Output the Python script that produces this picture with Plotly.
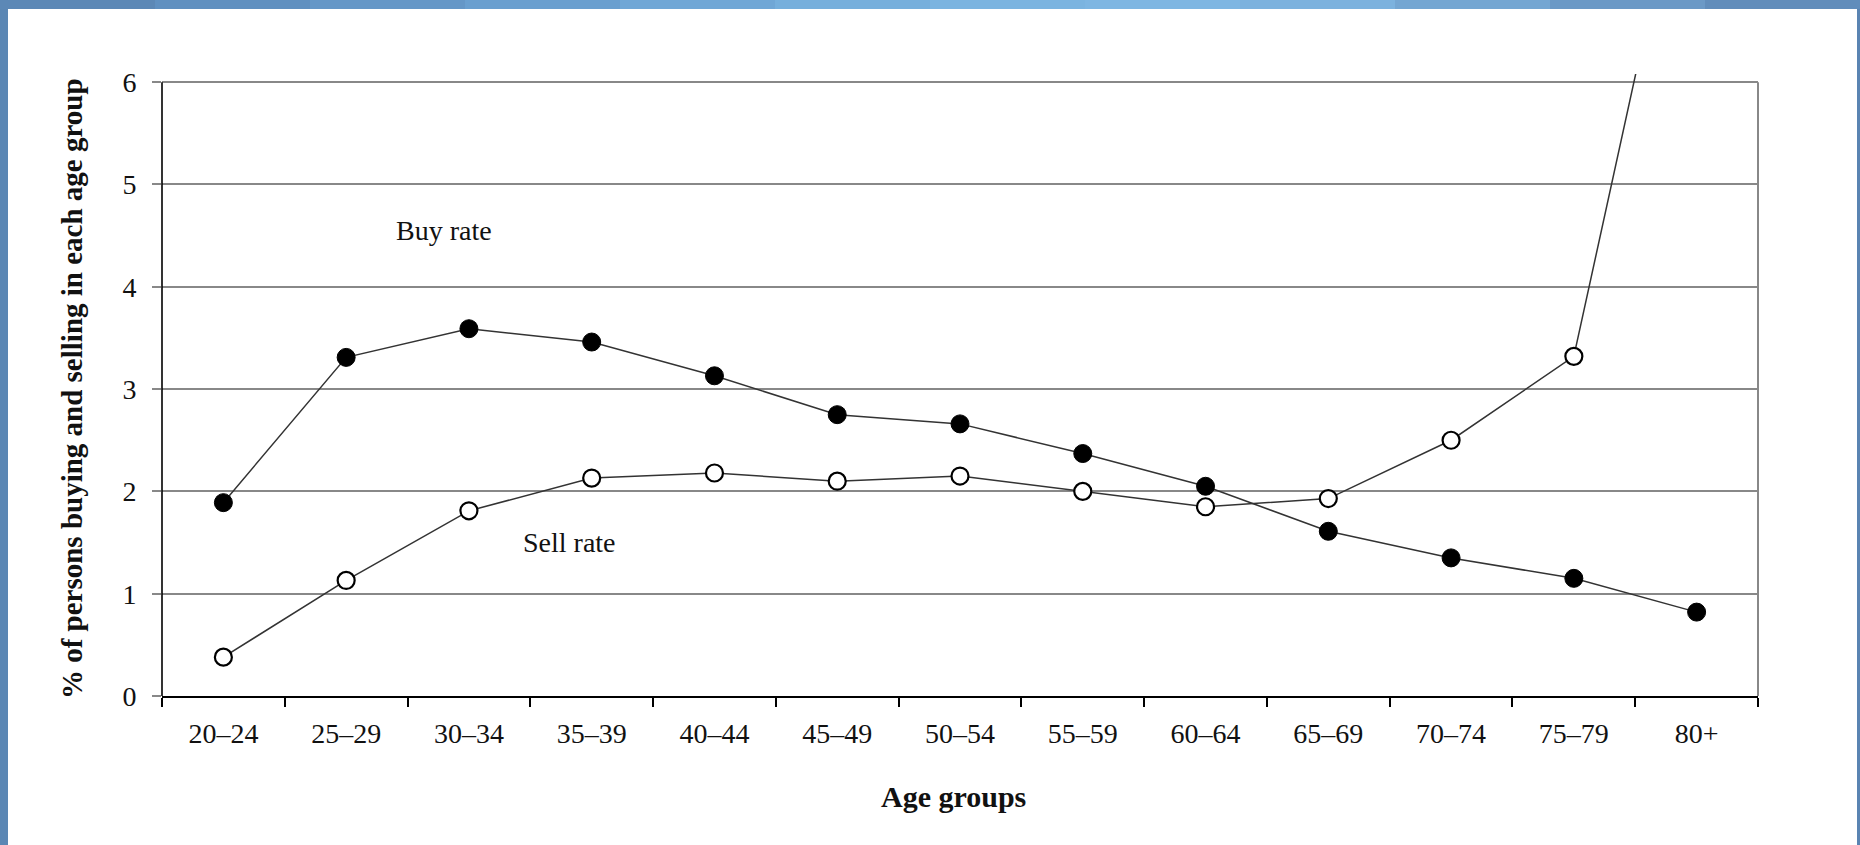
import plotly.graph_objects as go

# ---------------- data ----------------
age_groups = ["20–24", "25–29", "30–34", "35–39", "40–44", "45–49", "50–54",
              "55–59", "60–64", "65–69", "70–74", "75–79", "80+"]
buy_rate = [1.89, 3.31, 3.59, 3.46, 3.13, 2.75, 2.66, 2.37, 2.05, 1.61, 1.35, 1.15, 0.82]
sell_rate = [0.38, 1.13, 1.81, 2.13, 2.18, 2.10, 2.15, 2.00, 1.85, 1.93, 2.50, 3.32, 8.80]
y_ticks = [0, 1, 2, 3, 4, 5, 6]

# ---------------- geometry ----------------
W, H = 1860, 845
L, R, T, B = 162, 1758, 74, 696
FONT = "Liberation Serif"
LINE = "#333333"
GRID = "#888888"


def px(x):
    return (x - L) / (R - L)


def py(y):
    return (B - y) / (B - T)


fig = go.Figure()
fig.add_trace(go.Scatter(
    x=age_groups, y=buy_rate, mode="lines+markers", name="Buy rate",
    line=dict(color=LINE, width=1.5),
    marker=dict(symbol="circle", size=18, color="black", line=dict(color="black", width=1)),
    cliponaxis=False, showlegend=False,
))
fig.add_trace(go.Scatter(
    x=age_groups, y=sell_rate, mode="lines+markers", name="Sell rate",
    line=dict(color=LINE, width=1.5),
    marker=dict(symbol="circle", size=17, color="white", line=dict(color="black", width=2.2)),
    showlegend=False,
))

shapes = []
# left axis line (0..6) and right frame
shapes.append(dict(type="line", xref="paper", yref="y", x0=0, x1=0, y0=0, y1=6,
                   line=dict(color="black", width=1.6)))
shapes.append(dict(type="line", xref="paper", yref="y", x0=1, x1=1, y0=0, y1=6,
                   line=dict(color=GRID, width=2)))

# blue page frame (decorative border)
shapes.append(dict(type="rect", xref="paper", yref="paper", x0=px(0), x1=px(8), y0=py(H), y1=py(0),
                   fillcolor="#5b87b4", line=dict(width=0), layer="below"))
shapes.append(dict(type="rect", xref="paper", yref="paper", x0=px(1857), x1=px(W), y0=py(H), y1=py(0),
                   fillcolor="#5a84b2", line=dict(width=0), layer="below"))
top_cols = ["#5c88b6", "#6090c0", "#6597c7", "#6a9fcf", "#70a7d6", "#76afdc",
            "#7bb4e0", "#7eb6e2", "#7cb2de", "#74a6d2", "#6b99c6", "#618dbb"]
n = len(top_cols)
for i, c in enumerate(top_cols):
    shapes.append(dict(type="rect", xref="paper", yref="paper",
                       x0=px(W * i / n), x1=px(W * (i + 1) / n + 1), y0=py(9), y1=py(0),
                       fillcolor=c, line=dict(width=0), layer="below"))

annotations = [
    dict(text="Buy rate", x=1.80, y=4.55, xref="x", yref="y", showarrow=False,
         font=dict(family=FONT, size=28, color="#111111"), xanchor="center", yanchor="middle"),
    dict(text="Sell rate", x=2.82, y=1.50, xref="x", yref="y", showarrow=False,
         font=dict(family=FONT, size=28, color="#111111"), xanchor="center", yanchor="middle"),
    dict(text="<b>Age groups</b>", x=px(953), y=py(796), xref="paper", yref="paper", showarrow=False,
         font=dict(family=FONT, size=30, color="#111111"), xanchor="center", yanchor="middle"),
    dict(text="<b>% of persons buying and selling in each age group</b>", x=px(72), y=3,
         xref="paper", yref="y", showarrow=False, textangle=-90,
         font=dict(family=FONT, size=29, color="#111111"), xanchor="center", yanchor="middle"),
]

fig.update_layout(
    width=W, height=H, autosize=False,
    margin=dict(l=L, r=W - R, t=T, b=H - B, pad=0),
    paper_bgcolor="white", plot_bgcolor="white",
    font=dict(family=FONT, color="#111111"),
    shapes=shapes, annotations=annotations,
)
fig.update_xaxes(
    type="category", range=[-0.5, 12.5], tickson="boundaries",
    ticks="outside", ticklen=9, tickwidth=1.5, tickcolor="black",
    showline=True, linecolor="black", linewidth=1.6, showgrid=False, zeroline=False,
    tickfont=dict(family=FONT, size=28, color="#111111"), ticklabelstandoff=12,
)
fig.update_yaxes(
    range=[0, 6.08], tickvals=y_ticks, ticktext=[str(v) for v in y_ticks],
    ticks="outside", ticklen=9, tickwidth=1.5, tickcolor=GRID,
    showline=False, showgrid=True, gridcolor=GRID, gridwidth=2, zeroline=False,
    tickfont=dict(family=FONT, size=28, color="#111111"), ticklabelstandoff=10,
)

fig.write_html("out.html", config={"displayModeBar": False},
               post_script="document.body.style.margin='0';document.body.style.overflow='hidden';")
